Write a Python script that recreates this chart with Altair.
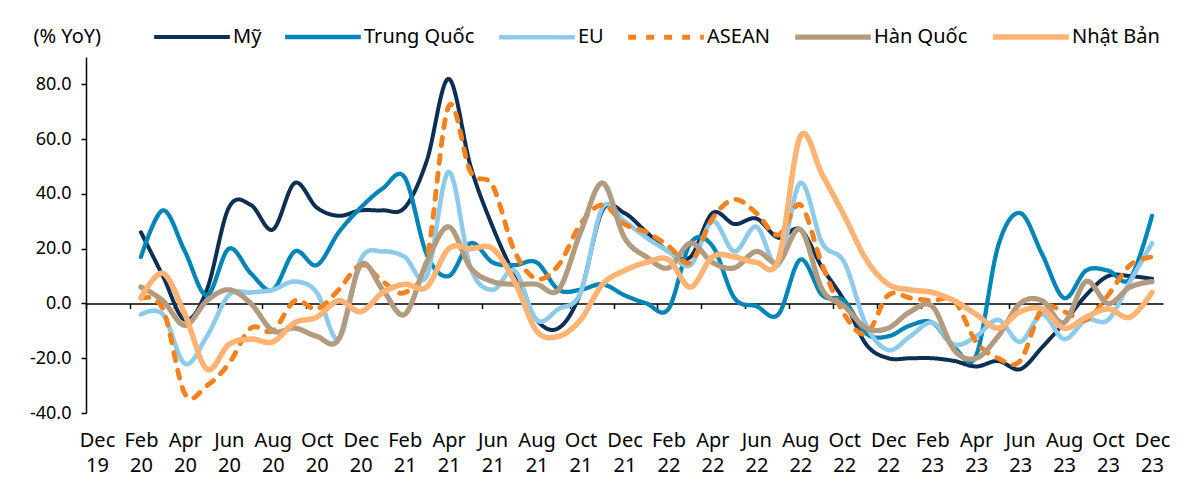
import json
import altair as alt
import pandas as pd

# Month index: 0 = Dec 2019, data from Feb 2020 (2) to Dec 2023 (48)
MONTH_INDEX = list(range(2, 49))

SERIES = ["Mỹ", "Trung Quốc", "EU", "ASEAN", "Hàn Quốc", "Nhật Bản"]
COLORS = ["#0d2f53", "#0086b6", "#8ecbea", "#f5821f", "#b29b7e", "#ffb374"]
WIDTHS = [4.0, 5.5, 4.0, 4.0, 4.0, 4.0]
DASHES = [[1, 0], [1, 0], [1, 0], [8, 10], [1, 0], [1, 0]]

my = [26, 10, -6, 5, 35, 36, 27, 44, 35, 32, 34, 34, 35, 52, 82, 50, 28, 10, -6, -9,
      4, 34, 33, 26, 19, 17, 33, 29, 31, 24, 27, 13, 1, -15, -20, -20, -20, -21, -23, -21,
      -24, -16, -7, 3, 10, 10, 9]
tq = [17, 34, 19, 3, 20, 11, 5, 19, 14, 26, 35, 42, 46, 18, 10, 22, 15, 14, 15, 5,
      5, 7, 3, 0, -2, 22, 21, 2, -1, -4, 16, 3, 1, -11, -12, -8, -7, -16, -19, 21,
      33, 18, 2, 12, 12, 9, 32]
eu = [-4, -4, -22, -12, 3, 4, 5, 8, 4, -13, 16, 19, 17, 10, 48, 13, 5, 12, -6, -2,
      4, 35, 30, 24, 19, 14, 30, 19, 28, 14, 44, 22, 15, -8, -17, -12, -7, -15, -12, -6,
      -14, -4, -13, -6, -6, 8, 22]
asean = [2, -2, -33, -30, -22, -9, -10, 1, -2, 5, 14, 8, 4, 16, 72, 48, 43, 19, 9, 14,
         29, 36, 29, 26, 21, 15, 31, 38, 33, 25, 36, 14, -4, -11, 3, 2, 1, 1, -14, -20,
         -21, -2, -3, -6, 3, 14, 17]
hq = [6, 1, -8, 1, 5, 0, -10, -9, -12, -13, 14, 5, -4, 15, 28, 13, 8, 7, 7, 5,
      26, 44, 24, 17, 13, 22, 15, 13, 19, 15, 27, 5, -1, -9, -9, -3, -1, -17, -20, -12,
      0, 1, -7, 8, 0, 6, 8]
nb = [2, 11, -4, -24, -15, -13, -14, -7, -5, 1, -3, 4, 7, 6, 20, 20, 20, 8, -10, -12,
      -6, 7, 12, 15, 16, 6, 17, 17, 15, 16, 61, 47, 32, 16, 7, 5, 4, 1, -4, -9,
      -3, -2, -9, -5, -2, -5, 4]

X_LABELS = ["Dec|19", "Feb|20", "Apr|20", "Jun|20", "Aug|20", "Oct|20", "Dec|20",
            "Feb|21", "Apr|21", "Jun|21", "Aug|21", "Oct|21", "Dec|21",
            "Feb|22", "Apr|22", "Jun|22", "Aug|22", "Oct|22", "Dec|22",
            "Feb|23", "Apr|23", "Jun|23", "Aug|23", "Oct|23", "Dec|23"]
Y_TICKS = [-40, -20, 0, 20, 40, 60, 80]

rows = []
for name, vals in zip(SERIES, [my, tq, eu, asean, hq, nb]):
    for m, v in zip(MONTH_INDEX, vals):
        rows.append({"series": name, "m": m, "v": v})
df = pd.DataFrame(rows)

FONT = "Noto Sans"
W, H = 1077, 356
Y_MIN, Y_MAX = -40, 90
zero_from_bottom = H * (0 - Y_MIN) / (Y_MAX - Y_MIN)

labels_js = json.dumps(X_LABELS).replace('"', "'")
x_label_expr = "split(" + labels_js + "[round((datum.value + 0.5) / 2)], '|')"
x_tick_values = [2 * k - 0.5 for k in range(len(X_LABELS))]

x_enc = alt.X(
    "m:Q",
    scale=alt.Scale(domain=[-0.5, 48.5], nice=False, zero=False),
    axis=alt.Axis(
        values=x_tick_values, labelExpr=x_label_expr, labelOffset=11,
        offset=-zero_from_bottom, tickSize=5, labelPadding=122,
        labelBaseline="top", labelLineHeight=25, labelAngle=0, labelAlign="center",
        labelOverlap=False, labelFlush=False, labelFontSize=20, domainColor="#000000",
        tickColor="#000000", domainWidth=1.5, tickWidth=1.5, grid=False, title=None,
    ),
)
y_enc = alt.Y(
    "v:Q",
    scale=alt.Scale(domain=[Y_MIN, Y_MAX], nice=False, zero=False),
    axis=alt.Axis(
        values=Y_TICKS, labelExpr="replace(format(datum.value, '.1f'), '−', '-')",
        tickSize=5, labelPadding=10, labelFontSize=18, domainColor="#000000",
        tickColor="#000000", domainWidth=1.5, tickWidth=1.5, grid=False,
        title="(% YoY)", titleAngle=0, titleAlign="left", titleBaseline="middle",
        titleX=-53, titleY=-21, titleFontWeight="normal", titleFontSize=20,
        titleColor="#000000",
    ),
)
color_enc = alt.Color(
    "series:N",
    scale=alt.Scale(domain=SERIES, range=COLORS),
    legend=alt.Legend(
        orient="none", legendX=65, legendY=-61, direction="horizontal", title=None,
        symbolType="stroke", symbolSize=5730, labelFontSize=20, labelColor="#000000",
        columnPadding=14, labelOffset=0, padding=0, columns=6,
    ),
)
dash_enc = alt.StrokeDash("series:N", scale=alt.Scale(domain=SERIES, range=DASHES))
width_enc = alt.StrokeWidth("series:N", scale=alt.Scale(domain=SERIES, range=WIDTHS))

base = alt.Chart(df).encode(x=x_enc, y=y_enc, color=color_enc,
                            strokeDash=dash_enc, strokeWidth=width_enc)
layers = [
    base.transform_filter(alt.datum.series == s).mark_line(
        interpolate="cardinal", strokeCap="round", strokeJoin="round")
    for s in SERIES
]

chart = alt.layer(*layers).properties(
    width=W, height=H,
    autosize=alt.AutoSizeParams(type="none"),
    padding={"left": 78, "top": 49, "right": 25, "bottom": 65},
).configure(font=FONT).configure_view(stroke=None).configure_axis(
    labelColor="#000000", labelFont=FONT, titleFont=FONT
).configure_legend(labelFont=FONT)

chart.save("out.html", embed_options={"renderer": "svg", "actions": False})
